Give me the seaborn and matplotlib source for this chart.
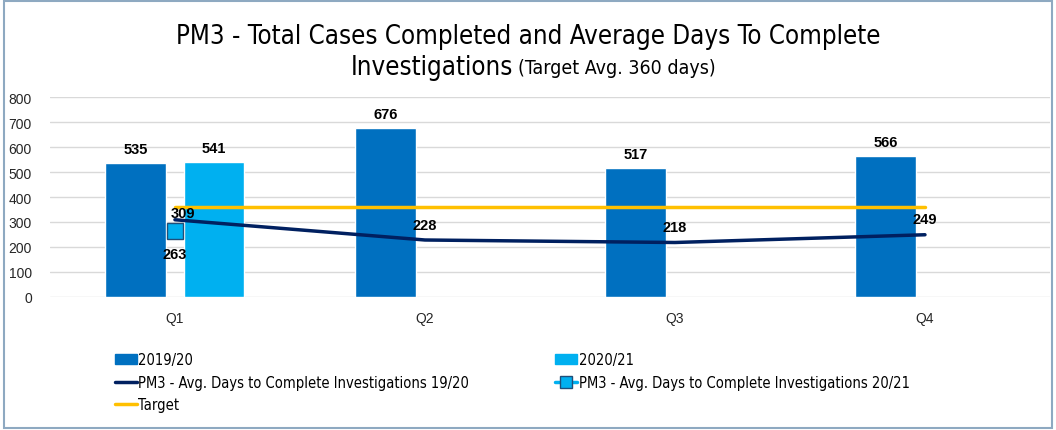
import matplotlib
matplotlib.use("Agg")
import matplotlib.pyplot as plt
from matplotlib.patches import Rectangle, Patch
from matplotlib.lines import Line2D
from matplotlib.font_manager import FontProperties
import numpy as np
import pandas as pd
import seaborn as sns

quarters = ["Q1", "Q2", "Q3", "Q4"]
cases_1920 = [535, 676, 517, 566]
cases_2021 = [541, np.nan, np.nan, np.nan]
days_1920 = [309, 228, 218, 249]
days_2021 = [263, np.nan, np.nan, np.nan]
target = [360, 360, 360, 360]

C_1920 = "#0070C0"
C_2021 = "#00B0F0"
C_NAVY = "#002060"
C_TARGET = "#FFC000"

sns.set_style("white")
plt.rcParams["font.family"] = ["Liberation Sans", "DejaVu Sans"]


def narrow(size):
    return FontProperties(family="DejaVu Sans", stretch="condensed", size=size)


df = pd.DataFrame({
    "Quarter": quarters * 2,
    "Year": ["2019/20"] * 4 + ["2020/21"] * 4,
    "Cases": cases_1920 + cases_2021,
}).dropna()

fig = plt.figure(figsize=(10.56, 4.31), dpi=100)
ax = fig.add_axes([0.0473, 0.3086, 0.947, 0.464])

sns.barplot(data=df, x="Quarter", y="Cases", hue="Year", order=quarters,
            hue_order=["2019/20", "2020/21"],
            palette=[C_1920, C_2021], width=0.625, gap=0.22,
            saturation=1, legend=False, ax=ax)
for cont in ax.containers:
    ax.bar_label(cont, fmt="%d", padding=5, fontsize=10.5, fontweight="bold",
                 color="black")

pos = np.arange(len(quarters))
ax.plot(pos, target, color=C_TARGET, lw=2.5, zorder=3)
ax.plot(pos, days_1920, color=C_NAVY, lw=2.5, zorder=4)
ax.plot(pos, days_2021, color=C_2021, lw=2.5, marker="s", ms=11,
        mfc=C_2021, mec="#1F4E79", mew=1, zorder=5)

# data labels for the avg-days lines (Q1 label was nudged in the original)
offsets = [(6, 0), (0, 6), (0, 6), (0, 6)]
for x, v, off in zip(pos, days_1920, offsets):
    ax.annotate(f"{v}", (x, v), xytext=off, textcoords="offset points",
                ha="center", va="bottom", fontsize=10.5, fontweight="bold",
                color="black", zorder=6)
for x, v in zip(pos, days_2021):
    if not np.isnan(v):
        ax.annotate(f"{int(v)}", (x, v), xytext=(0, -11), textcoords="offset points",
                    ha="center", va="top", fontsize=10.5, fontweight="bold",
                    color="black")

ax.set_xlim(-0.5, 3.5)
ax.set_ylim(0, 800)
ax.set_yticks(range(0, 801, 100))
ax.yaxis.grid(True, color="#D9D9D9", lw=1)
ax.set_axisbelow(True)
for s in ax.spines.values():
    s.set_visible(False)
ax.set_xlabel("")
ax.set_ylabel("")
ax.tick_params(axis="both", length=0, labelsize=10, colors="#262626")
ax.tick_params(axis="x", pad=10)
ax.tick_params(axis="y", pad=13)

# title
fig.text(0.5, 0.914, "PM3 - Total Cases Completed and Average Days To Complete",
         ha="center", va="center", fontproperties=narrow(18.5), color="black")
fig.text(0.486, 0.843, "Investigations", ha="right", va="center",
         fontproperties=narrow(18.5), color="black")
fig.text(0.4905, 0.840, "(Target Avg. 360 days)", ha="left", va="center",
         fontproperties=narrow(14), color="black")

h_1920 = Patch(color=C_1920)
h_2021 = Patch(color=C_2021)
h_d1920 = Line2D([], [], color=C_NAVY, lw=2.5)
h_d2021 = Line2D([], [], color=C_2021, lw=2.5, marker="s", ms=8, mfc=C_2021,
                 mec="#1F4E79")
h_tgt = Line2D([], [], color=C_TARGET, lw=2.5)

leg_kw = dict(loc="upper left", frameon=False, prop=narrow(10.5),
              handlelength=1.5, handletextpad=0.1, labelspacing=0.5,
              borderaxespad=0, borderpad=0)
leg1 = fig.legend([h_1920, h_d1920, h_tgt],
                  ["2019/20", "PM3 - Avg. Days to Complete Investigations 19/20", "Target"],
                  bbox_to_anchor=(0.109, 0.18), **leg_kw)
leg2 = fig.legend([h_2021, h_d2021],
                  ["2020/21", "PM3 - Avg. Days to Complete Investigations 20/21"],
                  bbox_to_anchor=(0.526, 0.18), **leg_kw)
for lg in (leg1, leg2):
    for t in lg.get_texts():
        t.set_color("black")

fig.patches.append(Rectangle((0.004, 0.004), 0.992, 0.992, transform=fig.transFigure,
                             fill=False, edgecolor="#8EA9C1", lw=1.5))

fig.savefig("out.png", dpi=100)
